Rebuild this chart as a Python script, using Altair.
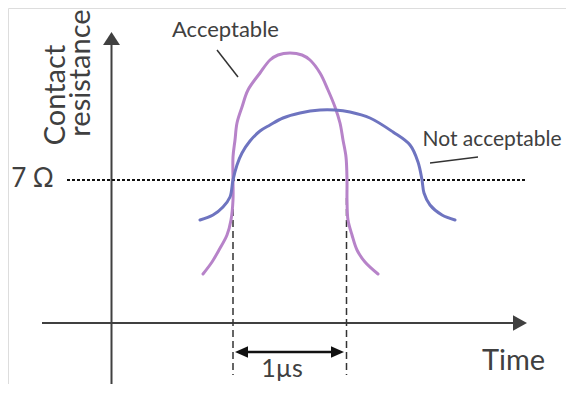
import altair as alt
import pandas as pd

# Schematic units: t = time (0 at the vertical axis), r = resistance (0 at the time axis)
acc_t = [91, 100, 107, 115, 119, 121, 121, 121, 123, 125, 130, 136, 148, 158, 166, 178, 190, 198, 208, 216,
         223, 228, 231, 234, 235, 235, 236, 240, 245, 253, 266]
acc_r = [49, 61, 73, 88, 103, 123, 143, 166, 183, 200, 216, 233, 250, 263, 268, 270, 268, 263, 250, 233,
         216, 200, 183, 166, 143, 123, 103, 88, 73, 61, 49]

nacc_t = [88, 101, 111, 118, 121, 125, 130, 138, 148, 158, 171, 188, 208, 223, 238, 258, 281, 298, 306, 310,
          312, 318, 330, 343]
nacc_r = [103, 108, 116, 126, 143, 158, 170, 182, 192, 198, 205, 210, 213, 213, 211, 205, 191, 178, 161, 143,
          130, 118, 108, 103]

threshold_r = 143
window_t = [121, 234.5]

labels = ["Acceptable", "Not acceptable", "7 Ω", "1µs", "Time", "Contact", "resistance"]
label_t = [113.5, 380, -79.5, 170, 401.5, -56, -31]
label_r = [293.5, 183.5, 144, -46, -38, 228, 250]
label_size = [22, 21, 26, 25, 29, 29, 29]
label_angle = [0, 0, 0, 0, 0, 270, 270]

T_DOM = [-104, 454]
R_DOM = [-61, 315]

xs = alt.Scale(domain=T_DOM, nice=False, zero=False)
ys = alt.Scale(domain=R_DOM, nice=False, zero=False)

curves = pd.DataFrame({
    "t": acc_t + nacc_t,
    "r": acc_r + nacc_r,
    "i": list(range(len(acc_t))) + list(range(len(nacc_t))),
    "s": ["Acceptable"] * len(acc_t) + ["Not acceptable"] * len(nacc_t),
})

line = alt.Chart(curves).mark_line(interpolate="catmull-rom", strokeWidth=3, strokeCap="round").encode(
    x=alt.X("t:Q", scale=xs, axis=None),
    y=alt.Y("r:Q", scale=ys, axis=None),
    color=alt.Color("s:N", scale=alt.Scale(domain=["Acceptable", "Not acceptable"],
                                          range=["#B783C9", "#6E74C0"]), legend=None),
    detail="s:N",
    order=alt.Order("i:Q"),
)

def rules(df, **kw):
    return alt.Chart(df).mark_rule(**kw).encode(
        x=alt.X("t:Q", scale=xs, axis=None), x2="t2:Q",
        y=alt.Y("r:Q", scale=ys, axis=None), y2="r2:Q",
    )

axes_df = pd.DataFrame({"t": [-0.5, -70], "t2": [-0.5, 401], "r": [-75, 0], "r2": [278, 0]})
axes = rules(axes_df, color="#404040", strokeWidth=2)

thr_df = pd.DataFrame({"t": [-45], "t2": [413], "r": [threshold_r], "r2": [threshold_r]})
thr = rules(thr_df, color="#111111", strokeWidth=2, strokeDash=[3, 2])

win_df = pd.DataFrame({"t": window_t, "t2": window_t, "r": [125, 125], "r2": [-52, -52]})
win = rules(win_df, color="#333333", strokeWidth=1.5, strokeDash=[7, 4])

shaft_df = pd.DataFrame({"t": [129], "t2": [225], "r": [-29], "r2": [-29]})
shaft = rules(shaft_df, color="#111111", strokeWidth=2.5)

lead_df = pd.DataFrame({"t": [105, 318], "t2": [126, 366], "r": [273, 160], "r2": [246, 166]})
lead = rules(lead_df, color="#333333", strokeWidth=1.5)

def head(t, r, path, size, color):
    return alt.Chart(pd.DataFrame({"t": [t], "r": [r]})).mark_point(
        shape=path, size=size, filled=True, opacity=1, color=color, strokeWidth=0
    ).encode(x=alt.X("t:Q", scale=xs, axis=None), y=alt.Y("r:Q", scale=ys, axis=None))

heads = [
    head(-0.5, 284.5, "M0,-1L1.3,1L-1.3,1Z", 169, "#404040"),
    head(408, 0, "M1,0L-1,-1.1L-1,1.1Z", 196, "#404040"),
    head(129.5, -29, "M-1,0L1,-0.9L1,0.9Z", 169, "#111111"),
    head(225.5, -29, "M1,0L-1,-0.9L-1,0.9Z", 169, "#111111"),
]

text_df = pd.DataFrame({"label": labels, "t": label_t, "r": label_r,
                        "size": label_size, "angle": label_angle})
texts = alt.Chart(text_df).mark_text(font="Lato", color="#404040", align="center", baseline="middle").encode(
    x=alt.X("t:Q", scale=xs, axis=None),
    y=alt.Y("r:Q", scale=ys, axis=None),
    text="label:N",
    size=alt.Size("size:Q", scale=None, legend=None),
    angle=alt.Angle("angle:Q", scale=None),
)

chart = alt.layer(axes, thr, win, shaft, lead, line, *heads, texts).properties(
    width=558, height=376, padding=0, autosize=alt.AutoSizeParams(type="none")
).configure_view(strokeWidth=0).configure(background="white")

chart.save("out.html", embed_options={"renderer": "svg", "actions": False})
